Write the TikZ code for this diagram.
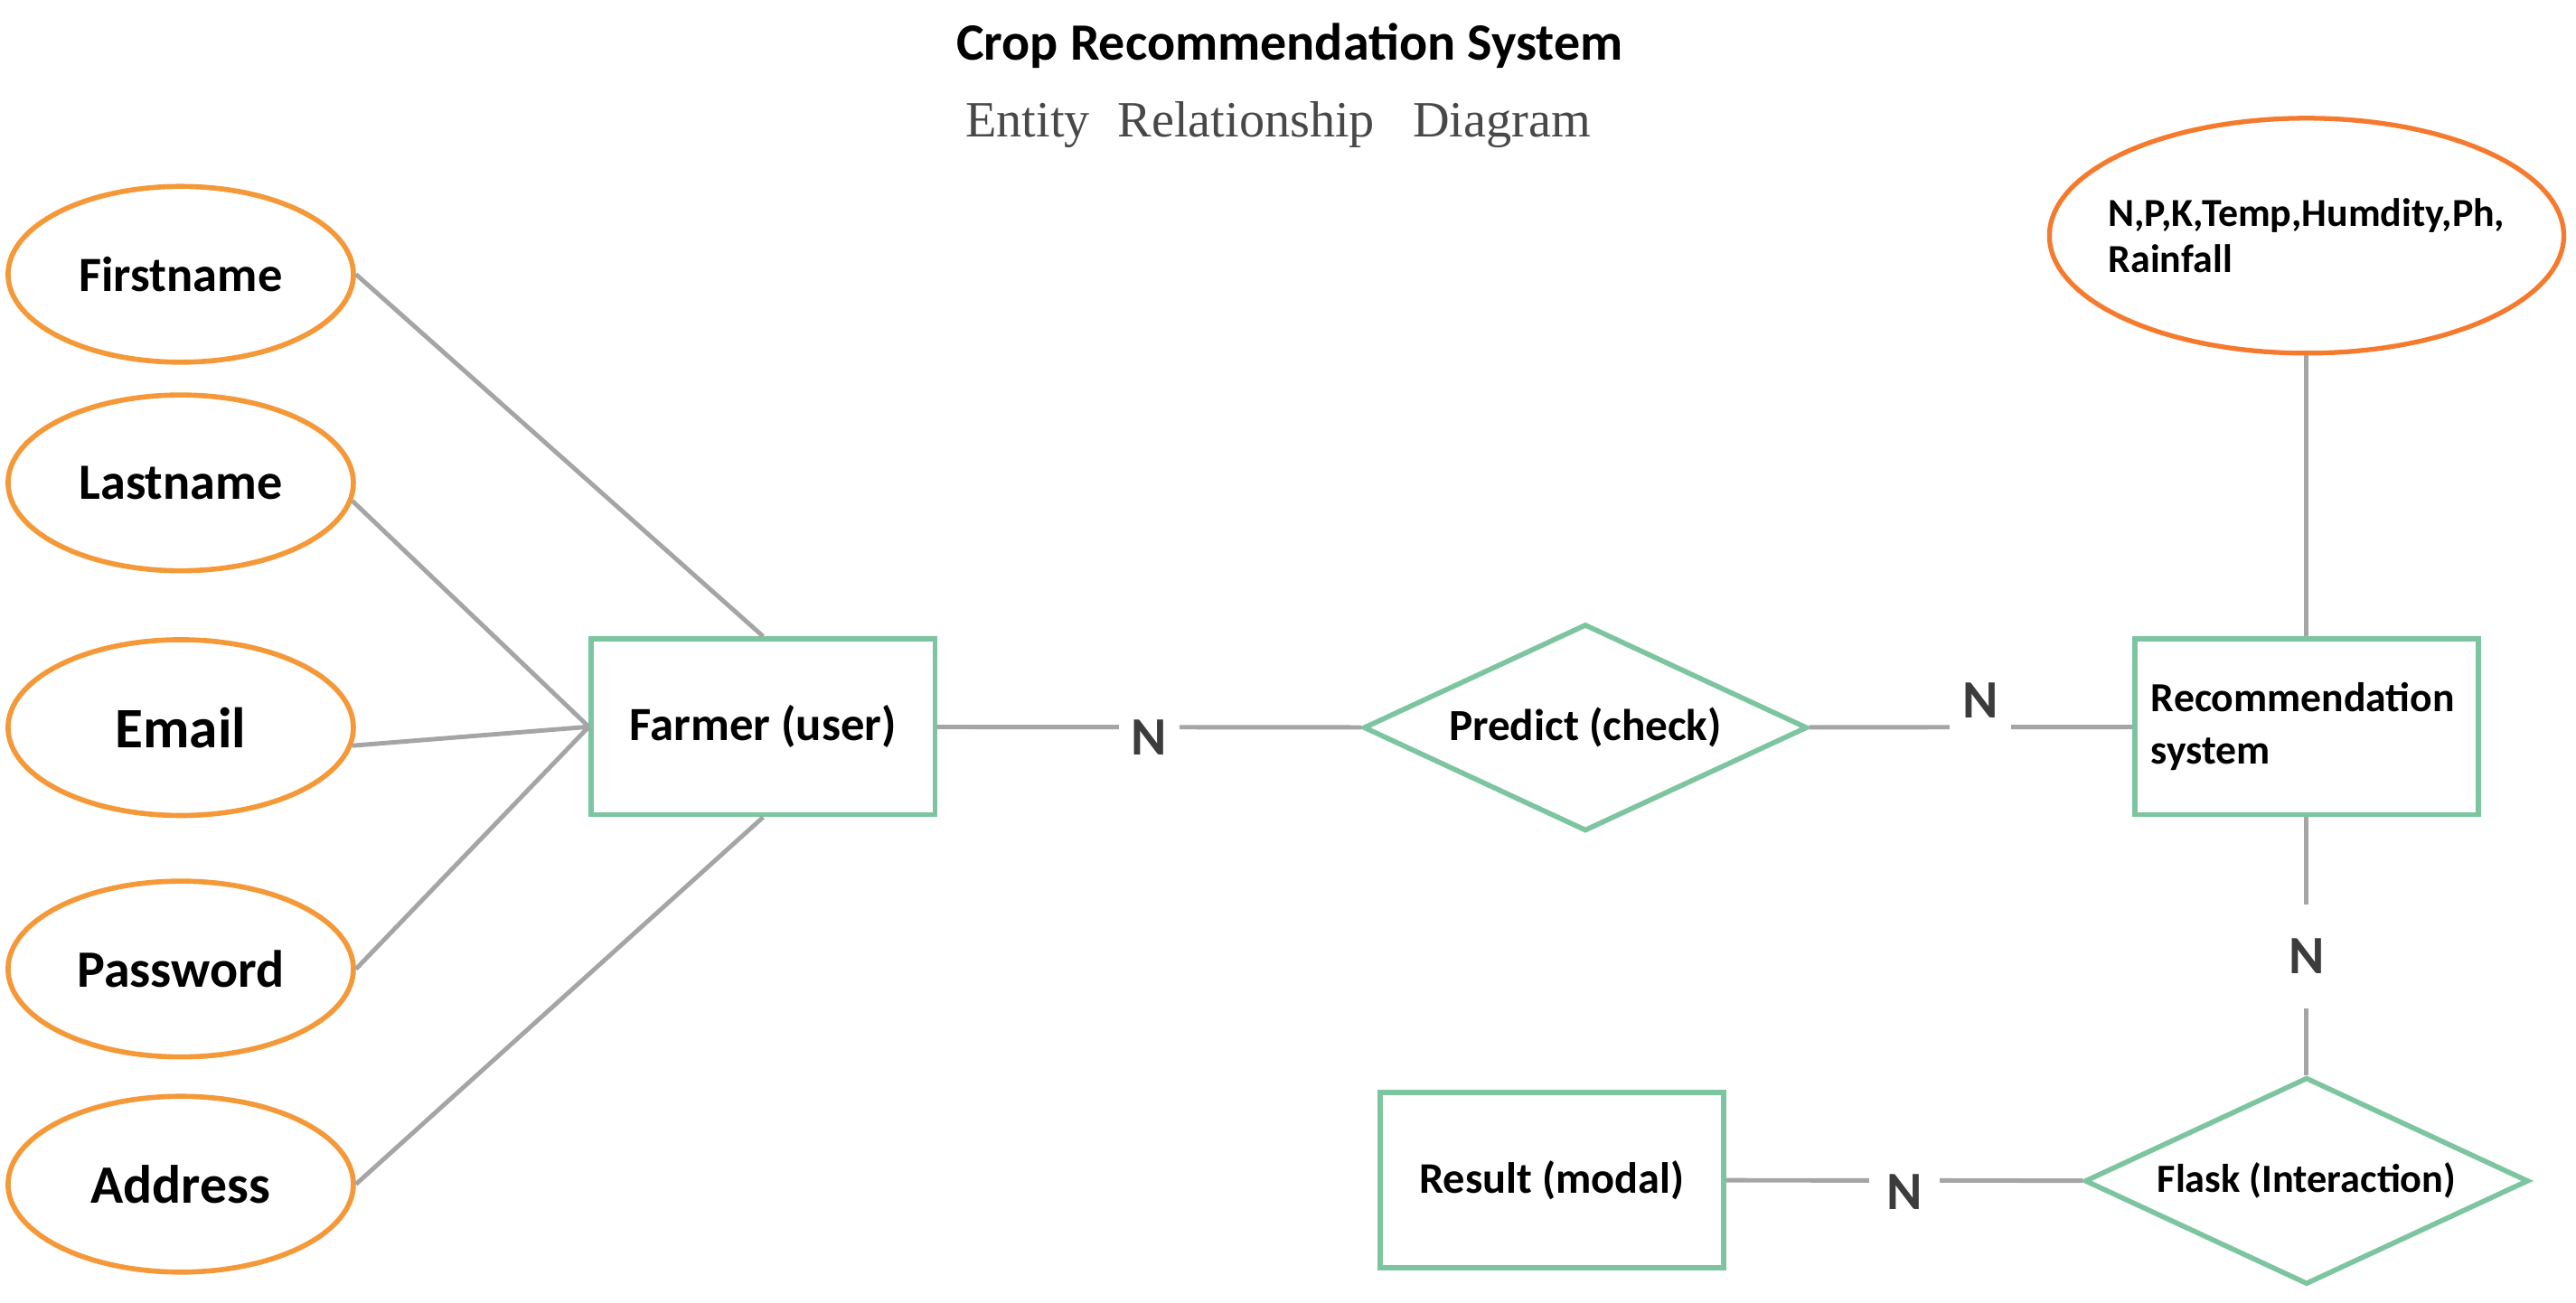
\documentclass[tikz,border=0pt]{standalone}
\usepackage{fontspec}
\setmainfont{Carlito}
\newfontfamily\timesfont{Liberation Serif}
\usepackage{xcolor}
\usetikzlibrary{shapes.geometric}
\definecolor{attrorange}{RGB}{244,152,56}
\definecolor{keyorange}{RGB}{245,122,45}
\definecolor{entgreen}{RGB}{125,197,160}
\definecolor{linkgray}{RGB}{165,165,165}
\definecolor{cardgray}{RGB}{60,60,60}
\definecolor{subgray}{RGB}{72,72,72}

\begin{document}
\begin{tikzpicture}[x=0.018176cm, y=-0.018176cm,
    attr/.style={draw=attrorange, line width=1.6pt, ellipse, inner sep=0pt,
      minimum width=3.82cm, minimum height=1.945cm},
    keyattr/.style={draw=keyorange, line width=1.5pt, ellipse, inner sep=0pt,
      minimum width=5.69cm, minimum height=2.6cm},
    entity/.style={draw=entgreen, line width=1.6pt, rectangle, inner sep=0pt,
      minimum width=3.8cm, minimum height=1.945cm},
    rel/.style={draw=entgreen, line width=1.6pt, diamond, aspect=2.14, inner sep=0pt,
      minimum width=4.91cm, minimum height=2.29cm},
    link/.style={draw=linkgray, line width=1.4pt},
    card/.style={fill=white, text=cardgray, font=\fontsize{17}{20}\selectfont\bfseries,
      inner xsep=0.14cm, inner ysep=0.1cm}]
  \useasboundingbox (0,0) rectangle (1568,793);

  \node[font=\fontsize{16.5}{20}\selectfont\bfseries] (title) at (785,28) {Crop Recommendation System};
  \node[text=subgray, font=\fontsize{16}{19}\selectfont\timesfont] (subtitle) at (778,76)
    {Entity\hspace{0.3em} Relationship\hspace{0.5em} Diagram};

  \node[attr, font=\fontsize{15.5}{18}\selectfont\bfseries] (first) at (110,167) {Firstname};
  \node[attr, font=\fontsize{16}{19}\selectfont\bfseries] (last) at (110,294) {Lastname};
  \node[attr, font=\fontsize{18}{21}\selectfont\bfseries] (email) at (110,443) {Email};
  \node[attr, font=\fontsize{16.5}{19}\selectfont\bfseries] (pass) at (110,590) {Password};
  \node[attr, font=\fontsize{17}{20}\selectfont\bfseries] (addr) at (110,721) {Address};

  \node[entity, font=\fontsize{15}{18}\selectfont\bfseries] (farmer) at (464.5,442.5) {Farmer (user)};
  \node[rel, font=\fontsize{14}{17}\selectfont\bfseries] (predict) at (965,443) {Predict (check)};
  \node[entity, align=left, text width=3.44cm, inner xsep=0.18cm,
    font=\fontsize{13}{16.5}\selectfont\bfseries] (rec) at (1404,442.5) {Recommendation\\system};
  \node[keyattr, label={[align=left, font=\fontsize{12.5}{14.5}\selectfont\bfseries]center:N,P,K,Temp,Humdity,Ph,\\Rainfall}]
    (npk) at (1404,143.5) {};
  \node[entity, font=\fontsize{13.75}{16}\selectfont\bfseries] (result) at (944.5,718.5) {Result (modal)};
  \node[rel, font=\fontsize{12.6}{15}\selectfont\bfseries] (flask) at (1404,719) {Flask (Interaction)};

  \draw[link] (first.east) -- (farmer.north);
  \draw[link] (last.-6) -- (farmer.west);
  \draw[link] (email.-6) -- (farmer.west);
  \draw[link] (pass.east) -- (farmer.west);
  \draw[link] (addr.east) -- (farmer.south);
  \draw[link] (farmer) -- node[card, yshift=-0.11cm] {N} (predict);
  \draw[link] (predict) -- node[card, pos=0.53, minimum height=1.2cm, yshift=0.3cm] {N} (rec);
  \draw[link] (npk) -- (rec);
  \draw[link] (rec) -- node[card, pos=0.54, inner ysep=0.38cm] {N} (flask);
  \draw[link] (result) -- node[card, inner xsep=0.19cm, yshift=-0.13cm] {N} (flask);
\end{tikzpicture}
\end{document}
